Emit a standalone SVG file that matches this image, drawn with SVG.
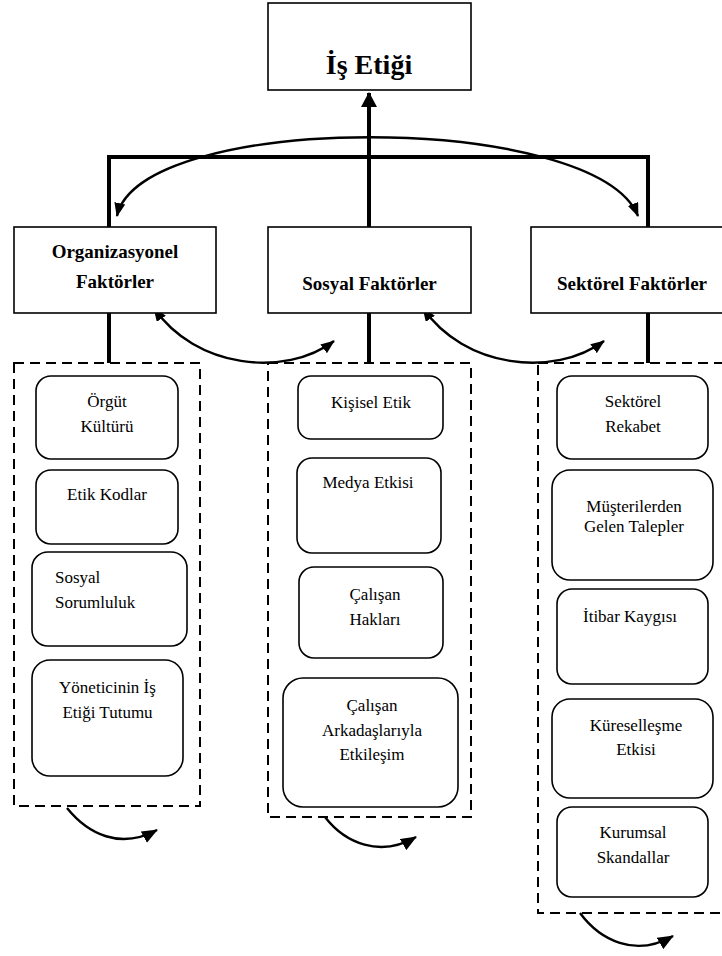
<svg xmlns="http://www.w3.org/2000/svg" width="722" height="956" viewBox="0 0 722 956">
<style>
.hbox{fill:#fff;stroke:#000;stroke-width:1.6}
.ibox{fill:#fff;stroke:#000;stroke-width:1.6}
.dbox{fill:none;stroke:#000;stroke-width:2;stroke-dasharray:10,6}
.thick{fill:none;stroke:#000;stroke-width:4}
.arc{fill:none;stroke:#000;stroke-width:2.4}
.ht{font-family:"Liberation Serif","DejaVu Serif",serif;font-weight:bold;font-size:19px;text-anchor:middle;fill:#000}
.tt{font-family:"Liberation Serif","DejaVu Serif",serif;font-weight:bold;font-size:28px;text-anchor:middle;fill:#000}
.it{font-family:"Liberation Serif","DejaVu Serif",serif;font-size:17px;text-anchor:middle;fill:#000}
.st{text-anchor:start}
</style>
<defs>
<marker id="ah" viewBox="0 0 14 11" refX="13" refY="5.5" markerWidth="14" markerHeight="11" markerUnits="userSpaceOnUse" orient="auto-start-reverse"><path d="M0,0 L14,5.5 L0,11 z" fill="#000"/></marker>
<marker id="ah2" viewBox="0 0 16 13" refX="15" refY="6.5" markerWidth="16" markerHeight="13" markerUnits="userSpaceOnUse" orient="auto"><path d="M0,0 L16,6.5 L0,13 z" fill="#000"/></marker>
<marker id="big" viewBox="0 0 15 16" refX="14" refY="8" markerWidth="15" markerHeight="16" markerUnits="userSpaceOnUse" orient="auto"><path d="M0,0 L15,8 L0,16 z" fill="#000"/></marker>
</defs>

<g id="connectors">
<path class="thick" d="M109,313 V363"/>
<path class="thick" d="M369,313 V363"/>
<path class="thick" d="M648,313 V363"/>
<path class="thick" d="M109,227 V157 H648 V227"/>
<path class="thick" d="M369,227 V93" marker-end="url(#big)"/>
<path class="arc" d="M117,216 C140,111 595,111 638,216" marker-start="url(#ah)" marker-end="url(#ah)"/>
<path class="arc" d="M154,308 C195,368 285,378 334,341" marker-start="url(#ah)" marker-end="url(#ah)"/>
<path class="arc" d="M423,308 C464,368 554,378 604,341" marker-start="url(#ah)" marker-end="url(#ah)"/>
<path class="arc" d="M67,808 C88,834 120,850 157,830" marker-end="url(#ah2)"/>
<path class="arc" d="M325,817 C345,843 380,858 416,837" marker-end="url(#ah2)"/>
<path class="arc" d="M580,913 C600,940 635,958 673,936" marker-end="url(#ah2)"/>
</g>

<g id="is-etigi">
<rect class="hbox" x="268" y="3" width="203" height="87"/>
<text class="tt" x="369" y="74">İş Etiği</text>
</g>

<g id="organizasyonel">
<rect class="hbox" x="14" y="227" width="202" height="86"/>
<text class="ht" x="115" y="258">Organizasyonel</text>
<text class="ht" x="115" y="288">Faktörler</text>
</g>
<g id="sosyal">
<rect class="hbox" x="268" y="227" width="203" height="86"/>
<text class="ht" x="369.5" y="290">Sosyal Faktörler</text>
</g>
<g id="sektorel">
<rect class="hbox" x="531" y="227" width="203" height="86"/>
<text class="ht" x="632" y="290">Sektörel Faktörler</text>
</g>

<g id="group-org">
<rect class="dbox" x="14" y="363" width="186" height="443"/>
</g>
<g id="group-sos">
<rect class="dbox" x="268" y="363" width="203" height="454"/>
</g>
<g id="group-sek">
<rect class="dbox" x="538" y="363" width="200" height="550"/>
</g>

<g id="orgut-kulturu">
<rect class="ibox" x="36" y="376" width="142" height="83" rx="15"/>
<text class="it" x="107" y="407">Örgüt</text>
<text class="it" x="107" y="432">Kültürü</text>
</g>
<g id="etik-kodlar">
<rect class="ibox" x="36" y="470" width="142" height="74" rx="15"/>
<text class="it" x="107" y="500">Etik Kodlar</text>
</g>
<g id="sosyal-sorumluluk">
<rect class="ibox" x="32" y="552" width="155" height="94" rx="16"/>
<text class="it st" x="55" y="583">Sosyal</text>
<text class="it st" x="55" y="608">Sorumluluk</text>
</g>
<g id="yonetici">
<rect class="ibox" x="32" y="660" width="151" height="116" rx="18"/>
<text class="it" x="107.5" y="693">Yöneticinin İş</text>
<text class="it" x="107.5" y="718">Etiği Tutumu</text>
</g>

<g id="kisisel-etik">
<rect class="ibox" x="298" y="376" width="145" height="63" rx="13"/>
<text class="it" x="371" y="408">Kişisel Etik</text>
</g>
<g id="medya-etkisi">
<rect class="ibox" x="297" y="458" width="144" height="95" rx="15"/>
<text class="it" x="368" y="488">Medya Etkisi</text>
</g>
<g id="calisan-haklari">
<rect class="ibox" x="299" y="567" width="144" height="91" rx="15"/>
<text class="it" x="375" y="600">Çalışan</text>
<text class="it" x="375" y="625">Hakları</text>
</g>
<g id="calisan-arkadas">
<rect class="ibox" x="283" y="678" width="175" height="129" rx="20"/>
<text class="it" x="372" y="711">Çalışan</text>
<text class="it" x="372" y="736">Arkadaşlarıyla</text>
<text class="it" x="372" y="760">Etkileşim</text>
</g>

<g id="sektorel-rekabet">
<rect class="ibox" x="557" y="376" width="151" height="83" rx="15"/>
<text class="it" x="633" y="407">Sektörel</text>
<text class="it" x="633" y="432">Rekabet</text>
</g>
<g id="musteri">
<rect class="ibox" x="552" y="470" width="161" height="110" rx="18"/>
<text class="it" x="634" y="512">Müşterilerden</text>
<text class="it" x="634" y="532">Gelen Talepler</text>
</g>
<g id="itibar">
<rect class="ibox" x="557" y="589" width="151" height="95" rx="15"/>
<text class="it" x="630" y="622">İtibar Kaygısı</text>
</g>
<g id="kuresellesme">
<rect class="ibox" x="552" y="699" width="161" height="99" rx="18"/>
<text class="it" x="636" y="731">Küreselleşme</text>
<text class="it" x="636" y="755">Etkisi</text>
</g>
<g id="kurumsal">
<rect class="ibox" x="557" y="807" width="151" height="90" rx="15"/>
<text class="it" x="633" y="838">Kurumsal</text>
<text class="it" x="633" y="863">Skandallar</text>
</g>
</svg>
